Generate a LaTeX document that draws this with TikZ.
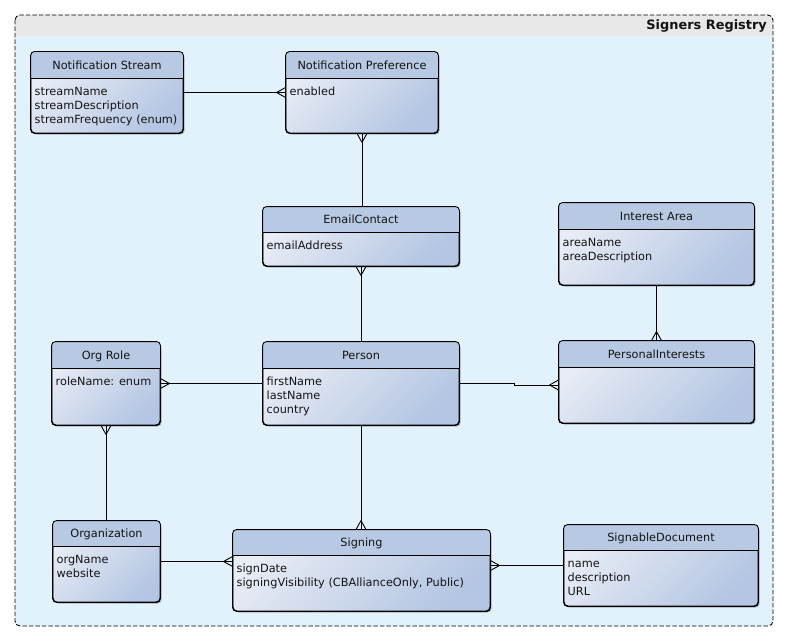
\documentclass[tikz,border=0pt]{standalone}
\usepackage{fontspec}
\setmainfont{DejaVu Sans}
\usetikzlibrary{calc,shadows}

\definecolor{pkgblue}{RGB}{225,242,253}
\definecolor{pkggray}{RGB}{232,232,232}
\definecolor{hdrblue}{RGB}{184,201,227}
\definecolor{bodylight}{RGB}{232,236,245}
\definecolor{bodydark}{RGB}{180,198,227}
\definecolor{txt}{RGB}{20,20,20}

\tikzset{
  entline/.style={draw=black, line width=0.9pt, rounded corners=4pt},
  entbody/.style={draw=black, line width=0.9pt, rounded corners=4pt, inner sep=0pt,
    left color=bodylight, right color=bodydark, shading angle=45,
    drop shadow={shadow xshift=1.6pt, shadow yshift=-1.6pt, opacity=0.28, fill=black}},
  enttitle/.style={anchor=base, inner sep=0pt, text=txt,
    font=\fontsize{11.3}{13}\selectfont},
  entattrs/.style={anchor=north west, inner sep=0pt, align=left, text=txt,
    font=\fontsize{11.3}{13.8}\selectfont},
  pkgtitle/.style={inner sep=0pt, text=txt, font=\fontsize{12.9}{15}\selectfont\bfseries},
  conn/.style={draw=black, line width=0.9pt},
  pkgframe/.style={draw=black, line width=0.9pt, dash pattern=on 4.5pt off 2pt, rounded corners=5pt},
}

% entity box: name, x1, y1, x2, y2, header line y, title, attribute lines
\newcommand\entity[8]{%
  \node[entbody, minimum width={(#4-#2)*1pt}, minimum height={(#5-#3)*1pt}]
    (#1) at ({(#2+#4)/2},{(#3+#5)/2}) {};
  \begin{scope}
    \clip[rounded corners=4pt] (#1.north west) rectangle (#1.south east);
    \fill[hdrblue] (#1.north west) rectangle (#4,#6);
  \end{scope}
  \draw[entline] (#1.north west) rectangle (#1.south east);
  \draw[entline] (#2,#6) -- (#4,#6);
  \node[enttitle] (#1-title) at ({(#2+#4)/2},{#6-8.5}) {#7};
  \node[entattrs] (#1-attrs) at ({#2+3.5},{#6+8.5}) {\rule{0pt}{9pt}#8};
}

% crow's foot at an end point, opening away from the box along (dx,dy)
\newcommand\crowfoot[3]{%
  \draw[conn] ($(#1)+(#2*9,#3*9)$) -- ($(#1)+(#3*5,#2*5)$)
              ($(#1)+(#2*9,#3*9)$) -- ($(#1)-(#3*5,#2*5)$);
}

\begin{document}
\begin{tikzpicture}[x=1pt, y=-1pt]
  \useasboundingbox (0,0) rectangle (789,642);
  \fill[white] (0,0) rectangle (789,642);

  % package frame
  \fill[pkgblue, rounded corners=5pt] (15,15) rectangle (773,626);
  \begin{scope}
    \clip[rounded corners=5pt] (15,15) rectangle (773,626);
    \fill[pkggray] (15,15) rectangle (773,36.5);
  \end{scope}
  \draw[pkgframe] (15,15) rectangle (773,626);
  \node[pkgtitle, anchor=base east] (pkg) at (767,29.5) {Signers Registry};

  % entities
  \entity{ns}{31}{52}{183}{133}{78}{Notification Stream}{streamName\\streamDescription\\streamFrequency (enum)}
  \entity{np}{286}{52}{438}{133}{78}{Notification Preference}{enabled}
  \entity{ec}{263}{207}{459}{266}{232}{EmailContact}{emailAddress}
  \entity{ia}{559}{203}{754}{285}{229}{Interest Area}{areaName\\areaDescription}
  \entity{orgrole}{52}{342}{160}{425}{368}{Org Role}{roleName: enum}
  \entity{person}{263}{342}{459}{425}{368}{Person}{firstName\\lastName\\country}
  \entity{pi}{559}{341}{754}{423}{367}{PersonalInterests}{}
  \entity{org}{53}{521}{160}{602}{546}{Organization}{orgName\\website}
  \entity{signing}{233}{530}{490}{611}{555}{Signing}{signDate\\signingVisibility (CBAllianceOnly, Public)}
  \entity{sd}{564}{525}{758}{606}{550}{SignableDocument}{name\\description\\URL}

  % relationships
  \draw[conn] (ns) -- (np);
  \crowfoot{np.west}{-1}{0}

  \draw[conn] (np.south) -- (np.south |- ec.north);
  \crowfoot{np.south}{0}{1}

  \draw[conn] (ec) -- (person);
  \crowfoot{ec.south}{0}{1}

  \draw[conn] (ia) -- (pi);
  \crowfoot{pi.north}{0}{-1}

  \coordinate (piin) at ([yshift=-3pt]pi.west);
  \draw[conn] (person.east) -- ++(55,0) |- (piin);
  \crowfoot{piin}{-1}{0}

  \draw[conn] (orgrole) -- (person);
  \crowfoot{orgrole.east}{1}{0}

  \draw[conn] (orgrole.south) -- (orgrole.south |- org.north);
  \crowfoot{orgrole.south}{0}{1}

  \coordinate (sgin) at (org.east -| signing.west);
  \draw[conn] (org.east) -- (sgin);
  \crowfoot{sgin}{-1}{0}

  \coordinate (sgtop) at (person.south |- signing.north);
  \draw[conn] (person.south) -- (sgtop);
  \crowfoot{sgtop}{0}{-1}

  \coordinate (sgout) at (sd.west -| signing.east);
  \draw[conn] (sd.west) -- (sgout);
  \crowfoot{sgout}{1}{0}
\end{tikzpicture}
\end{document}
